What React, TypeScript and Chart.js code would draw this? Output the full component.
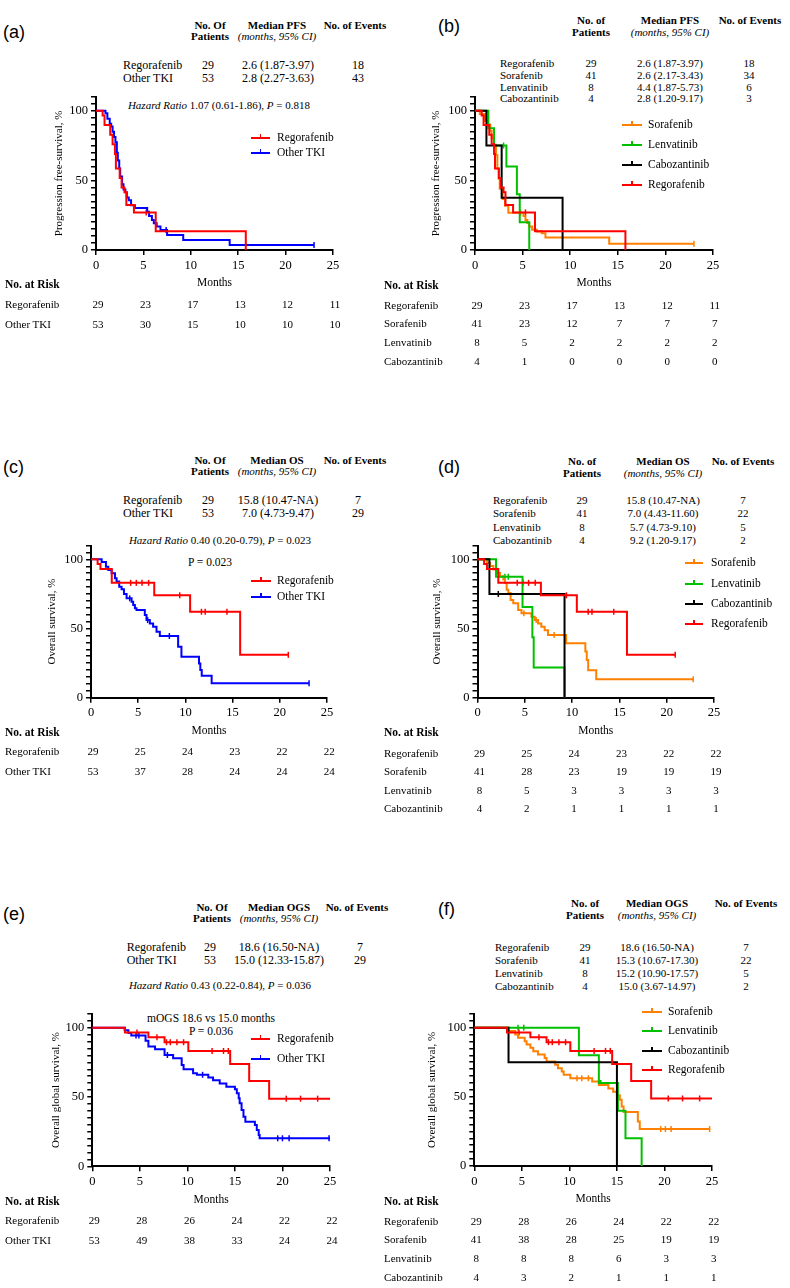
import React, { useEffect, useRef } from "react";
import { Chart, registerables } from "chart.js";
Chart.register(...registerables);

const SERIF = '"Liberation Serif", "Times New Roman", serif';
const SANS = '"Liberation Sans", Arial, sans-serif';
const RED = "#ff0000";
const BLUE = "#0000ff";
const ORANGE = "#ff8000";
const GREEN = "#00c000";
const BLACK = "#000000";

// ---------- axis ticks ----------
const xTickValues = [0, 5, 10, 15, 20, 25];
const yLabelled = [0, 50, 100];

// ---------- PFS ----------
const pfsRegT = [0, 0.7, 0.9, 1.5, 1.75, 2.0, 2.1, 2.5, 2.7, 3.0, 3.2, 4.0, 6.3, 15.8];
const pfsRegS = [100, 96.6, 89.7, 82.8, 75.9, 69.0, 58.6, 51.7, 44.8, 41.4, 32.4, 27.0, 13.5, 0];
const pfsRegEnd = 15.8;
const pfsRegCens = [5.3];

const pfsOthT = [0, 1.0, 1.2, 1.45, 1.6, 1.75, 1.9, 2.05, 2.2, 2.3, 2.45, 2.55, 2.75, 2.9, 3.1, 3.25, 3.45, 3.7, 4.1, 5.4, 5.6, 5.9, 6.1, 6.4, 6.8, 7.5, 9.2, 14.1];
const pfsOthS = [100, 98.1, 94.3, 90.6, 88.7, 84.9, 81.1, 77.4, 69.8, 64.2, 58.5, 52.8, 47.2, 43.4, 41.5, 37.7, 35.8, 32.1, 30.2, 27.4, 24.5, 21.6, 19.2, 16.8, 14.4, 10.8, 7.2, 3.6];
const pfsOthEnd = 23.0;
const pfsOthCens = [7.4, 23.0];

const pfsSorT = [0, 0.5, 1.05, 1.3, 1.6, 1.75, 2.0, 2.2, 2.35, 2.5, 2.6, 2.9, 3.15, 3.5, 5.1, 5.3, 5.5, 5.7, 6.0, 6.5, 7.0, 7.4, 14.1];
const pfsSorS = [100, 97.6, 92.7, 90.2, 85.4, 80.5, 75.6, 68.3, 58.5, 51.2, 43.9, 36.6, 31.7, 26.8, 24.4, 21.6, 19.3, 16.9, 14.5, 13.3, 12.1, 8.9, 4.4];
const pfsSorEnd = 23.0;
const pfsSorCens = [4.8, 23.0];

const pfsLenT = [0, 1.4, 2.0, 3.3, 4.4, 4.7, 5.7];
const pfsLenS = [100, 87.5, 75, 60, 40, 20, 0];
const pfsLenEnd = 5.7;
const pfsLenCens = [3.0];

const pfsCabT = [0, 1.2, 2.8, 9.2];
const pfsCabS = [100, 75, 37.5, 0];
const pfsCabEnd = 9.2;
const pfsCabCens = [2.0];

// ---------- OS ----------
const osRegT = [0, 0.7, 1.0, 2.2, 6.7, 10.5, 15.8];
const osRegS = [100, 96.6, 93.1, 83.0, 74.0, 62.1, 31.0];
const osRegEnd = 20.9;
const osRegCens = [4.2, 4.8, 5.4, 6.1, 9.4, 11.7, 12.1, 14.4, 20.9];

const osOthT = [0, 1.13, 1.58, 1.83, 2.18, 2.54, 2.71, 2.99, 3.24, 3.49, 3.77, 4.3, 4.47, 4.65, 4.82, 5.7, 5.88, 6.23, 6.58, 6.94, 7.29, 9.23, 9.58, 11.44, 11.58, 11.73, 12.78];
const osOthS = [100, 98.1, 94.7, 92.3, 89.9, 86.3, 83.9, 80.2, 78.3, 74.9, 71.8, 69.4, 67.0, 64.6, 63.4, 59.8, 56.1, 53.7, 51.3, 47.7, 44.6, 36.9, 29.6, 24.8, 20.0, 15.9, 10.4];
const osOthEnd = 23.1;
const osOthCens = [4.1, 6.0, 8.3, 23.1];

const osSorT = [0, 1.0, 1.33, 1.68, 2.03, 2.38, 2.73, 2.9, 3.08, 3.25, 3.5, 3.78, 4.3, 4.65, 5.7, 6.05, 6.4, 6.75, 7.1, 7.45, 9.37, 11.4, 11.55, 11.7, 12.55];
const osSorS = [100, 97.6, 95.1, 92.7, 90.2, 87.8, 85.4, 82.9, 78.0, 75.6, 70.7, 68.3, 63.4, 61.0, 58.5, 56.1, 53.7, 51.2, 48.8, 45.3, 39.3, 33.3, 27.2, 19.8, 13.3];
const osSorEnd = 22.8;
const osSorCens = [4.9, 6.2, 8.1, 22.8];

const osLenT = [0, 1.96, 4.76, 5.8, 5.94, 9.2];
const osLenS = [100, 87.5, 65.6, 43.7, 21.9, 0];
const osLenEnd = 9.2;
const osLenCens = [2.9, 3.25];

const osCabT = [0, 1.26, 9.2];
const osCabS = [100, 75, 0];
const osCabEnd = 9.2;
const osCabCens = [2.2];

// ---------- OGS ----------
const ogsRegT = [0, 3.44, 5.9, 7.6, 10.1, 14.5, 16.5, 18.6];
const ogsRegS = [100, 96.5, 93.0, 89.5, 83.2, 73.8, 61.5, 48.8];
const ogsRegEnd = 25;
const ogsRegCens = [4.7, 6.8, 7.8, 8.2, 8.9, 9.6, 12.6, 13.8, 14.3, 20.4, 21.9, 23.7];

const ogsOthT = [0, 3.4, 3.8, 4.1, 5.6, 5.9, 6.6, 7.6, 8.5, 9.4, 9.6, 10.6, 11.0, 12.2, 12.7, 13.4, 14.1, 15.0, 15.2, 15.4, 15.5, 15.7, 15.9, 16.1, 17.1, 17.3, 17.5, 17.6];
const ogsOthS = [100, 98.1, 96.2, 94.3, 90.5, 86.5, 84.5, 80.3, 77.9, 73.1, 70.0, 67.1, 66.0, 64.0, 62.0, 59.8, 57.4, 55.6, 52.7, 49.0, 45.4, 40.6, 35.8, 32.2, 29.8, 26.2, 22.6, 20.2];
const ogsOthEnd = 25;
const ogsOthCens = [4.6, 4.9, 7.9, 11.6, 19.5, 20.0, 20.7, 24.9];

const ogsSorT = [0, 3.58, 4.3, 4.6, 5.3, 5.5, 5.9, 6.2, 6.7, 7.4, 7.6, 8.5, 8.8, 9.2, 9.4, 10.1, 12.4, 13.1, 14.1, 14.6, 15.0, 15.3, 15.5, 15.7, 17.2, 17.4];
const ogsSorS = [100, 97.6, 95.1, 92.7, 90.2, 87.8, 85.4, 82.9, 80.5, 78.0, 75.6, 73.2, 70.7, 68.3, 65.9, 63.4, 61.0, 58.5, 56.1, 53.7, 51.2, 47.8, 43.0, 39.0, 32.2, 26.7];
const ogsSorEnd = 24.75;
const ogsSorCens = [10.8, 11.3, 12.0, 19.6, 20.1, 20.7, 24.75];

const ogsLenT = [0, 11.0, 13.1, 15.1, 15.9, 17.6];
const ogsLenS = [100, 80, 60, 40, 20, 0];
const ogsLenEnd = 17.6;
const ogsLenCens = [4.6, 5.2, 13.3];

const ogsCabT = [0, 3.6, 15.0];
const ogsCabS = [100, 75, 0];
const ogsCabEnd = 15.0;
const ogsCabCens: number[] = [];

// ---------- summary tables ----------
const twoNames = ["Regorafenib", "Other TKI"];
const fourNames = ["Regorafenib", "Sorafenib", "Lenvatinib", "Cabozantinib"];
const legendTwo = ["Regorafenib", "Other TKI"];
const legendFour = ["Sorafenib", "Lenvatinib", "Cabozantinib", "Regorafenib"];

const aPatients = ["29", "53"];
const aMedian = ["2.6 (1.87-3.97)", "2.8 (2.27-3.63)"];
const aEvents = ["18", "43"];
const bPatients = ["29", "41", "8", "4"];
const bMedian = ["2.6 (1.87-3.97)", "2.6 (2.17-3.43)", "4.4 (1.87-5.73)", "2.8 (1.20-9.17)"];
const bEvents = ["18", "34", "6", "3"];
const cPatients = ["29", "53"];
const cMedian = ["15.8 (10.47-NA)", "7.0 (4.73-9.47)"];
const cEvents = ["7", "29"];
const dPatients = ["29", "41", "8", "4"];
const dMedian = ["15.8 (10.47-NA)", "7.0 (4.43-11.60)", "5.7 (4.73-9.10)", "9.2 (1.20-9.17)"];
const dEvents = ["7", "22", "5", "2"];
const ePatients = ["29", "53"];
const eMedian = ["18.6 (16.50-NA)", "15.0 (12.33-15.87)"];
const eEvents = ["7", "29"];
const fPatients = ["29", "41", "8", "4"];
const fMedian = ["18.6 (16.50-NA)", "15.3 (10.67-17.30)", "15.2 (10.90-17.57)", "15.0 (3.67-14.97)"];
const fEvents = ["7", "22", "5", "2"];

// ---------- numbers at risk ----------
const aRisk = [[29, 23, 17, 13, 12, 11], [53, 30, 15, 10, 10, 10]];
const bRisk = [[29, 23, 17, 13, 12, 11], [41, 23, 12, 7, 7, 7], [8, 5, 2, 2, 2, 2], [4, 1, 0, 0, 0, 0]];
const cRisk = [[29, 25, 24, 23, 22, 22], [53, 37, 28, 24, 24, 24]];
const dRisk = [[29, 25, 24, 23, 22, 22], [41, 28, 23, 19, 19, 19], [8, 5, 3, 3, 3, 3], [4, 2, 1, 1, 1, 1]];
const eRisk = [[29, 28, 26, 24, 22, 22], [53, 49, 38, 33, 24, 24]];
const fRisk = [[29, 28, 26, 24, 22, 22], [41, 38, 28, 25, 19, 19], [8, 8, 8, 6, 3, 3], [4, 3, 2, 1, 1, 1]];

// ---------- helpers ----------
type Series = { t: number[]; s: number[]; end: number; cens: number[]; color: string };
const mk = (t: number[], s: number[], end: number, cens: number[], color: string): Series => ({ t, s, end, cens, color });

function stepAt(t: number[], s: number[], x: number) {
  let v = s[0];
  for (let i = 0; i < t.length; i++) if (t[i] <= x) v = s[i];
  return v;
}
function stepPoints(se: Series) {
  const pts = se.t.map((x, i) => ({ x, y: se.s[i] }));
  if (se.end > se.t[se.t.length - 1]) pts.push({ x: se.end, y: se.s[se.s.length - 1] });
  return pts;
}

type Geo = { x0: number; x25: number; y0: number; yTop: number; titleX: number };

function KMPlot({ geo, yTitle, series }: { geo: Geo; yTitle: string; series: Series[] }) {
  const ref = useRef<HTMLCanvasElement>(null);
  const left = Math.round(geo.titleX - 6.6);
  const top = Math.floor(geo.yTop - 10);
  const width = Math.round(geo.x25 + 16 - left);
  const height = Math.round(geo.y0 + 40.3 - top);
  useEffect(() => {
    const canvas = ref.current!;
    const datasets: any[] = [];
    series.forEach((se) => {
      datasets.push({
        data: stepPoints(se),
        borderColor: se.color,
        backgroundColor: se.color,
        borderWidth: 2,
        pointRadius: 0,
        stepped: true,
        fill: false,
        clip: false,
      });
    });
    series.forEach((se) => {
      datasets.push({
        data: se.cens.map((c) => ({ x: c, y: stepAt(se.t, se.s, c) })),
        showLine: false,
        borderColor: se.color,
        backgroundColor: se.color,
        pointStyle: "line",
        rotation: 90,
        pointRadius: 3,
        pointBorderWidth: 1.5,
        borderWidth: 1.5,
        clip: false,
      });
    });
    const tickFont = { family: SERIF, size: 12.5 };
    const chart = new Chart(canvas, {
      type: "line",
      data: { datasets },
      options: {
        animation: false,
        responsive: false,
        maintainAspectRatio: false,
        events: [],
        layout: { padding: { top: geo.yTop - top, right: 16, bottom: 0, left: 0 } },
        plugins: { legend: { display: false }, tooltip: { enabled: false } },
        scales: {
          x: {
            type: "linear",
            min: 0,
            max: 25,
            afterBuildTicks: (s: any) => {
              s.ticks = xTickValues.map((v) => ({ value: v }));
            },
            ticks: { font: tickFont, color: "#000", padding: 3, maxRotation: 0, autoSkip: false },
            grid: { display: true, drawOnChartArea: false, drawTicks: true, tickLength: 5, tickWidth: 1.5, tickColor: "#000", lineWidth: 1.5, color: "#000" },
            border: { display: true, color: "#000", width: 2 },
            title: { display: true, text: "Months", font: { family: SERIF, size: 11.5 }, color: "#000", padding: { top: 0, bottom: 0 } },
            afterFit: (s: any) => {
              s.height = height - (geo.y0 - top);
            },
          },
          y: {
            type: "linear",
            min: 0,
            max: 110,
            ticks: {
              stepSize: 5,
              autoSkip: false,
              font: tickFont,
              color: "#000",
              padding: 3,
              callback: (v: any) => (yLabelled.includes(Number(v)) ? String(v) : ""),
            },
            grid: { display: true, drawOnChartArea: false, drawTicks: true, tickLength: 5, tickWidth: 1.5, tickColor: "#000", lineWidth: 1.5, color: "#000" },
            border: { display: true, color: "#000", width: 2 },
            title: { display: true, text: yTitle, font: { family: SERIF, size: 11 }, color: "#000", padding: { top: 0, bottom: 0 } },
            afterFit: (s: any) => {
              s.width = geo.x0 - left;
            },
          },
        },
      } as any,
    });
    return () => chart.destroy();
  }, []);
  return (
    <canvas
      ref={ref}
      width={width}
      height={height}
      style={{ position: "absolute", left, top, width, height }}
    />
  );
}

type TxtProps = {
  x: number;
  y: number;
  children: React.ReactNode;
  align?: "left" | "center" | "right";
  size?: number;
  bold?: boolean;
  italic?: boolean;
  family?: string;
};
function Txt({ x, y, children, align = "center", size = 11, bold = false, italic = false, family = SERIF }: TxtProps) {
  const tr = align === "center" ? "translate(-50%,-50%)" : align === "right" ? "translate(-100%,-50%)" : "translateY(-50%)";
  return (
    <div
      style={{
        position: "absolute",
        left: x,
        top: y,
        transform: tr,
        whiteSpace: "nowrap",
        fontSize: size,
        fontWeight: bold ? 700 : 400,
        fontStyle: italic ? "italic" : "normal",
        fontFamily: family,
        lineHeight: 1,
        color: "#000",
      }}
    >
      {children}
    </div>
  );
}

type PanelProps = {
  label: string;
  labelX: number;
  labelY: number;
  ofWord: string;
  medTitle: string;
  headCx: number[];
  headY: number[];
  tableSize: number;
  names: string[];
  patients: string[];
  median: string[];
  events: string[];
  rowY: number[];
  nameX: number;
  rowCx: number[];
  geo: Geo;
  yTitle: string;
  series: Series[];
  legendNames: string[];
  legendColors: string[];
  legendX: number[];
  legendY: number[];
  riskNames: string[];
  risk: number[][];
  riskX: number;
  riskHeadY: number;
  riskY: number[];
  notes?: React.ReactNode;
};

function Panel(p: PanelProps) {
  const { geo } = p;
  const step = (geo.x25 - geo.x0) / 5;
  return (
    <>
      <Txt x={p.labelX} y={p.labelY} align="left" size={18} family={SANS}>{p.label}</Txt>
      <Txt x={p.headCx[0]} y={p.headY[0]} bold size={11}>{"No. " + p.ofWord}</Txt>
      <Txt x={p.headCx[0]} y={p.headY[1]} bold size={11}>Patients</Txt>
      <Txt x={p.headCx[1]} y={p.headY[0]} bold size={11}>{p.medTitle}</Txt>
      <Txt x={p.headCx[1]} y={p.headY[1]} italic size={11}>(months, 95% CI)</Txt>
      <Txt x={p.headCx[2]} y={p.headY[0]} bold size={11}>No. of Events</Txt>
      {p.names.map((n, i) => (
        <React.Fragment key={"r" + i}>
          <Txt x={p.nameX} y={p.rowY[i]} align="left" size={p.tableSize}>{n}</Txt>
          <Txt x={p.rowCx[0]} y={p.rowY[i]} size={p.tableSize}>{p.patients[i]}</Txt>
          <Txt x={p.rowCx[1]} y={p.rowY[i]} size={p.tableSize}>{p.median[i]}</Txt>
          <Txt x={p.rowCx[2]} y={p.rowY[i]} size={p.tableSize}>{p.events[i]}</Txt>
        </React.Fragment>
      ))}
      {p.notes}
      <KMPlot geo={geo} yTitle={p.yTitle} series={p.series} />
      {p.legendNames.map((n, i) => (
        <React.Fragment key={"l" + i}>
          <div style={{ position: "absolute", left: p.legendX[0], top: p.legendY[i] - 1, width: p.legendX[1] - p.legendX[0], height: 2, background: p.legendColors[i] }} />
          <div style={{ position: "absolute", left: (p.legendX[0] + p.legendX[1]) / 2 - 0.75, top: p.legendY[i] - 4, width: 1.5, height: 4, background: p.legendColors[i] }} />
          <Txt x={p.legendX[2]} y={p.legendY[i]} align="left" size={11.5}>{n}</Txt>
        </React.Fragment>
      ))}
      <Txt x={p.riskX} y={p.riskHeadY} align="left" bold size={11.5}>No. at Risk</Txt>
      {p.riskNames.map((n, i) => (
        <React.Fragment key={"k" + i}>
          <Txt x={p.riskX} y={p.riskY[i]} align="left" size={11}>{n}</Txt>
          {p.risk[i].map((v, j) => (
            <Txt key={j} x={geo.x0 + j * step + 2} y={p.riskY[i]} size={11}>{String(v)}</Txt>
          ))}
        </React.Fragment>
      ))}
    </>
  );
}

const hr = (rest: string, p: string) => (
  <>
    <i>Hazard Ratio</i> {rest}, <i>P</i> = {p}
  </>
);

export default function App() {
  const twoColors = [RED, BLUE];
  const fourColors = [ORANGE, GREEN, BLACK, RED];
  return (
    <div
      style={{
        position: "absolute",
        left: 0,
        top: 0,
        width: 790,
        height: 1288,
        overflow: "hidden",
        background: "#fff",
        fontFamily: SERIF,
      }}
    >
      {/* (a) */}
      <Panel
        label="(a)" labelX={3} labelY={32} ofWord="Of" medTitle="Median PFS"
        headCx={[210, 277, 355]} headY={[25, 36]} tableSize={12}
        names={twoNames} patients={aPatients} median={aMedian} events={aEvents}
        rowY={[65, 78]} nameX={123} rowCx={[208, 278, 358]}
        geo={{ x0: 96, x25: 333, y0: 250, yTop: 96.8, titleX: 60 }}
        yTitle="Progression free-survival, %"
        series={[
          mk(pfsRegT, pfsRegS, pfsRegEnd, pfsRegCens, RED),
          mk(pfsOthT, pfsOthS, pfsOthEnd, pfsOthCens, BLUE),
        ]}
        legendNames={legendTwo} legendColors={twoColors} legendX={[251, 270, 277]} legendY={[137.7, 153.3]}
        riskNames={twoNames} risk={aRisk} riskX={5} riskHeadY={285.4} riskY={[303.7, 323.7]}
        notes={<Txt x={219} y={105} size={11}>{hr("1.07 (0.61-1.86)", "0.818")}</Txt>}
      />
      {/* (b) */}
      <Panel
        label="(b)" labelX={438} labelY={26} ofWord="of" medTitle="Median PFS"
        headCx={[591, 670, 750]} headY={[20, 31.7]} tableSize={11}
        names={fourNames} patients={bPatients} median={bMedian} events={bEvents}
        rowY={[63.3, 75, 86.7, 98.3]} nameX={500} rowCx={[591, 670, 749]}
        geo={{ x0: 475, x25: 712.7, y0: 250, yTop: 96.8, titleX: 437 }}
        yTitle="Progression free-survival, %"
        series={[
          mk(pfsRegT, pfsRegS, pfsRegEnd, pfsRegCens, RED),
          mk(pfsCabT, pfsCabS, pfsCabEnd, pfsCabCens, BLACK),
          mk(pfsLenT, pfsLenS, pfsLenEnd, pfsLenCens, GREEN),
          mk(pfsSorT, pfsSorS, pfsSorEnd, pfsSorCens, ORANGE),
        ]}
        legendNames={legendFour} legendColors={fourColors} legendX={[622, 642, 648]} legendY={[125, 145, 165, 185]}
        riskNames={fourNames} risk={bRisk} riskX={384} riskHeadY={285.7} riskY={[305, 323.3, 342.3, 360.7]}
      />
      {/* (c) */}
      <Panel
        label="(c)" labelX={3} labelY={467} ofWord="Of" medTitle="Median OS"
        headCx={[210, 277, 355]} headY={[460, 471]} tableSize={12}
        names={twoNames} patients={cPatients} median={cMedian} events={cEvents}
        rowY={[500, 513]} nameX={123} rowCx={[208, 278, 358]}
        geo={{ x0: 91, x25: 327.2, y0: 697.7, yTop: 545.5, titleX: 53 }}
        yTitle="Overall survival, %"
        series={[
          mk(osRegT, osRegS, osRegEnd, osRegCens, RED),
          mk(osOthT, osOthS, osOthEnd, osOthCens, BLUE),
        ]}
        legendNames={legendTwo} legendColors={twoColors} legendX={[251, 271, 277]} legendY={[581, 597]}
        riskNames={twoNames} risk={cRisk} riskX={5} riskHeadY={733.1} riskY={[751.4, 771.4]}
        notes={
          <>
            <Txt x={220} y={540} size={11}>{hr("0.40 (0.20-0.79)", "0.023")}</Txt>
            <Txt x={210} y={562.7} size={11.5}>P = 0.023</Txt>
          </>
        }
      />
      {/* (d) */}
      <Panel
        label="(d)" labelX={438} labelY={467} ofWord="of" medTitle="Median OS"
        headCx={[582, 663, 743]} headY={[461, 472.7]} tableSize={11}
        names={fourNames} patients={dPatients} median={dMedian} events={dEvents}
        rowY={[500, 513.4, 526.7, 540]} nameX={493} rowCx={[582, 663, 743]}
        geo={{ x0: 477.5, x25: 714, y0: 697.7, yTop: 545.5, titleX: 438 }}
        yTitle="Overall survival, %"
        series={[
          mk(osRegT, osRegS, osRegEnd, osRegCens, RED),
          mk(osCabT, osCabS, osCabEnd, osCabCens, BLACK),
          mk(osLenT, osLenS, osLenEnd, osLenCens, GREEN),
          mk(osSorT, osSorS, osSorEnd, osSorCens, ORANGE),
        ]}
        legendNames={legendFour} legendColors={fourColors} legendX={[685, 703, 711]} legendY={[563.3, 583.5, 603.8, 624]}
        riskNames={fourNames} risk={dRisk} riskX={384} riskHeadY={733.4} riskY={[752.7, 771, 790, 808.4]}
      />
      {/* (e) */}
      <Panel
        label="(e)" labelX={3} labelY={914} ofWord="Of" medTitle="Median OGS"
        headCx={[212, 279, 357]} headY={[907, 918]} tableSize={12}
        names={twoNames} patients={ePatients} median={eMedian} events={eEvents}
        rowY={[947, 960]} nameX={126.7} rowCx={[210, 279, 360]}
        geo={{ x0: 92.3, x25: 330, y0: 1166.3, yTop: 1013.8, titleX: 57 }}
        yTitle="Overall global survival, %"
        series={[
          mk(ogsRegT, ogsRegS, ogsRegEnd, ogsRegCens, RED),
          mk(ogsOthT, ogsOthS, ogsOthEnd, ogsOthCens, BLUE),
        ]}
        legendNames={legendTwo} legendColors={twoColors} legendX={[251, 270, 277]} legendY={[1039.3, 1059.3]}
        riskNames={twoNames} risk={eRisk} riskX={5} riskHeadY={1201.7} riskY={[1220, 1240]}
        notes={
          <>
            <Txt x={220} y={985} size={11}>{hr("0.43 (0.22-0.84)", "0.036")}</Txt>
            <Txt x={211} y={1019.3} size={11.5}>mOGS 18.6 vs 15.0 months</Txt>
            <Txt x={211} y={1031.7} size={11.5}>P = 0.036</Txt>
          </>
        }
      />
      {/* (f) */}
      <Panel
        label="(f)" labelX={438} labelY={909} ofWord="of" medTitle="Median OGS"
        headCx={[585, 657, 746]} headY={[903.4, 915]} tableSize={11}
        names={fourNames} patients={fPatients} median={fMedian} events={fEvents}
        rowY={[946.7, 960, 973.3, 986]} nameX={495} rowCx={[585, 657, 746]}
        geo={{ x0: 474.3, x25: 711.7, y0: 1166, yTop: 1013.8, titleX: 433 }}
        yTitle="Overall global survival, %"
        series={[
          mk(ogsRegT, ogsRegS, ogsRegEnd, ogsRegCens, RED),
          mk(ogsCabT, ogsCabS, ogsCabEnd, ogsCabCens, BLACK),
          mk(ogsLenT, ogsLenS, ogsLenEnd, ogsLenCens, GREEN),
          mk(ogsSorT, ogsSorS, ogsSorEnd, ogsSorCens, ORANGE),
        ]}
        legendNames={legendFour} legendColors={fourColors} legendX={[642, 662, 668]} legendY={[1011.7, 1031.2, 1050.7, 1070.2]}
        riskNames={fourNames} risk={fRisk} riskX={384} riskHeadY={1201.7} riskY={[1221, 1239.3, 1258.3, 1276.7]}
      />
    </div>
  );
}
